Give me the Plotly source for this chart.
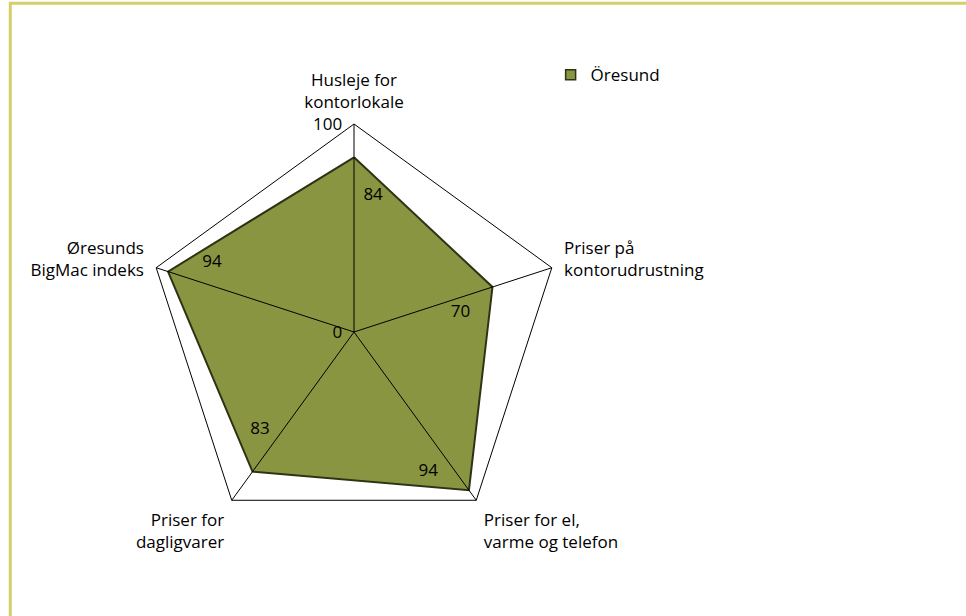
import plotly.graph_objects as go

categories = [
    "Husleje for<br>kontorlokale",
    "Priser på<br>kontorudrustning",
    "Priser for el,<br>varme og telefon",
    "Priser for<br>dagligvarer",
    "Øresunds<br>BigMac indeks",
]
values = [84, 70, 94, 83, 94]
series_name = "Öresund"
radial_ticks = [0, 100]

# overlaid numeric polar carries the spokes (drawn over the fill) and the value labels
step = 360 / len(values)
spoke_angles = [i * step for i in range(len(values))]
label_r = [v - 18 for v in values]
label_theta = [a + 8 for a in spoke_angles]

font = "Open Sans, Lato, sans-serif"
fill = "#8A9541"
edge = "#2F3315"
domain = dict(x=[146 / 966, 562 / 966], y=[1 - 540 / 616, 1 - 124 / 616])

fig = go.Figure()
fig.add_trace(go.Scatterpolar(
    r=values + values[:1],
    theta=categories + categories[:1],
    mode="lines",
    fill="toself",
    fillcolor=fill,
    line=dict(color=edge, width=2),
    name=series_name,
    showlegend=False,
))
# legend entry only (square swatch)
fig.add_trace(go.Scatterpolar(
    r=[None], theta=[categories[0]],
    mode="markers",
    marker=dict(symbol="square", size=10, color=fill, line=dict(color=edge, width=1.5)),
    name=series_name,
))
fig.add_trace(go.Scatterpolar(
    r=label_r,
    theta=label_theta,
    mode="text",
    text=[str(v) for v in values],
    textfont=dict(size=17, color="#000000", family=font),
    showlegend=False,
    hoverinfo="skip",
    subplot="polar2",
))

fig.update_layout(
    width=966, height=616,
    margin=dict(l=0, r=0, t=0, b=0),
    paper_bgcolor="white",
    plot_bgcolor="white",
    font=dict(family=font, size=17, color="#000000"),
    showlegend=True,
    legend=dict(x=0.570, y=0.878, xanchor="left", yanchor="middle",
                font=dict(size=17), bgcolor="rgba(0,0,0,0)", itemwidth=30),
    polar=dict(
        domain=domain,
        bgcolor="white",
        gridshape="linear",
        angularaxis=dict(
            direction="clockwise",
            rotation=90,
            showline=True,
            linecolor="#000000",
            linewidth=1,
            showgrid=False,
            ticks="outside",
            ticklen=9,
            tickcolor="rgba(0,0,0,0)",
            tickfont=dict(size=17),
        ),
        radialaxis=dict(
            range=[0, 100],
            angle=90,
            tickangle=90,
            tickmode="array",
            tickvals=radial_ticks,
            ticktext=[str(t) + "\u00a0\u00a0" for t in radial_ticks],
            showgrid=False,
            showline=False,
            ticks="",
            side="counterclockwise",
            tickfont=dict(size=17),
        ),
    ),
    polar2=dict(
        domain=domain,
        bgcolor="rgba(0,0,0,0)",
        angularaxis=dict(
            direction="clockwise", rotation=90,
            tickmode="array", tickvals=spoke_angles,
            showticklabels=False, ticks="", showline=False,
            showgrid=True, gridcolor="#000000", gridwidth=1,
        ),
        radialaxis=dict(range=[0, 100], showgrid=False, showline=False,
                        showticklabels=False, ticks=""),
    ),
    shapes=[
        dict(type="line", xref="paper", yref="paper", x0=9 / 966, x1=1, y0=1 - 3.3 / 616, y1=1 - 3.3 / 616,
             line=dict(color="#D4CF6B", width=3)),
        dict(type="line", xref="paper", yref="paper", x0=10.3 / 966, x1=10.3 / 966, y0=0, y1=1 - 2 / 616,
             line=dict(color="#D4CF6B", width=3)),
    ],
)

fig.write_html("out.html", config={"displayModeBar": False},
               post_script="document.body.style.margin = '0';")
